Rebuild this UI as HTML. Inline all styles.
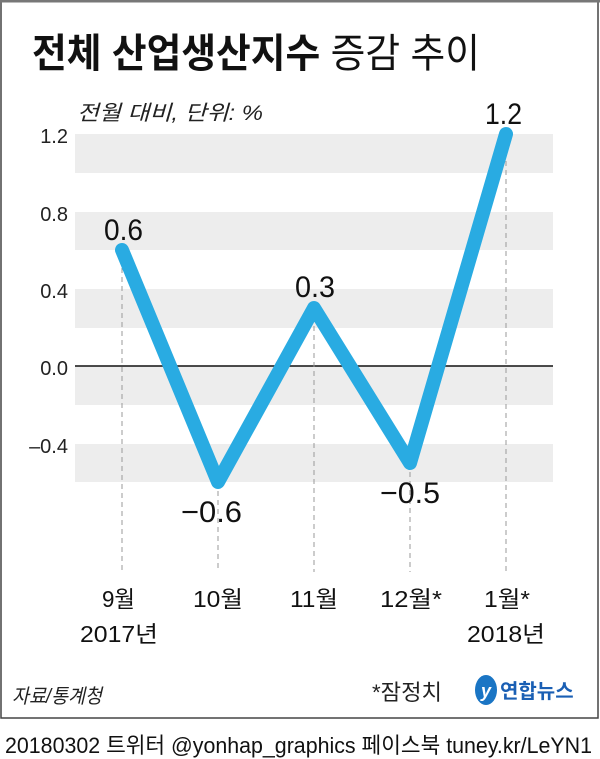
<!DOCTYPE html>
<html><head><meta charset="utf-8"><style>
body{margin:0;background:#fff;}
svg{display:block;}
text{font-family:"Liberation Sans","Noto Sans CJK KR",sans-serif;}
</style></head><body>
<svg width="600" height="759" viewBox="0 0 600 759" xmlns="http://www.w3.org/2000/svg">
<rect x="0" y="0" width="600" height="759" fill="#fff"/>
<rect x="1" y="1" width="597" height="717" fill="none" stroke="#444" stroke-width="1.5"/>
<line x1="0" y1="1" x2="600" y2="1" stroke="#777" stroke-width="3"/>
<text x="32" y="67" font-size="40" font-weight="bold" fill="#111" textLength="448" lengthAdjust="spacingAndGlyphs">전체 산업생산지수 <tspan font-weight="normal">증감 추이</tspan></text>
<text x="77" y="120" font-size="21" fill="#222" font-style="italic" textLength="186" lengthAdjust="spacingAndGlyphs">전월 대비, 단위: %</text>
<g fill="#ededed">
<rect x="75" y="134" width="478" height="39"/>
<rect x="75" y="212" width="478" height="38"/>
<rect x="75" y="289" width="478" height="39"/>
<rect x="75" y="366" width="478" height="39"/>
<rect x="75" y="444" width="478" height="38"/>
</g>
<line x1="75" y1="366" x2="553" y2="366" stroke="#111" stroke-width="1.5"/>
<g font-size="20" fill="#222" text-anchor="end">
<text x="68" y="143">1.2</text>
<text x="68" y="221">0.8</text>
<text x="68" y="298">0.4</text>
<text x="68" y="375">0.0</text>
<text x="68" y="453">–0.4</text>
</g>
<g stroke="#999" stroke-width="1" stroke-dasharray="5,4">
<line x1="122" y1="250" x2="122" y2="572"/>
<line x1="218" y1="482" x2="218" y2="572"/>
<line x1="314" y1="308" x2="314" y2="572"/>
<line x1="410" y1="463" x2="410" y2="572"/>
<line x1="506" y1="134" x2="506" y2="572"/>
</g>
<polyline points="122,250 218,482 314,308 410,463 506,134" fill="none" stroke="#29abe2" stroke-width="14" stroke-linejoin="round" stroke-linecap="round"/>
<g font-size="30" fill="#111">
<text x="104" y="240" textLength="39" lengthAdjust="spacingAndGlyphs">0.6</text>
<text x="181" y="522" textLength="61" lengthAdjust="spacingAndGlyphs">−0.6</text>
<text x="295" y="297" textLength="40" lengthAdjust="spacingAndGlyphs">0.3</text>
<text x="380" y="503" textLength="60" lengthAdjust="spacingAndGlyphs">−0.5</text>
<text x="485" y="124" textLength="37" lengthAdjust="spacingAndGlyphs">1.2</text>
</g>
<g font-size="23" fill="#111">
<text x="102" y="607" textLength="33" lengthAdjust="spacingAndGlyphs">9월</text>
<text x="193" y="607" textLength="50" lengthAdjust="spacingAndGlyphs">10월</text>
<text x="290" y="607" textLength="48" lengthAdjust="spacingAndGlyphs">11월</text>
<text x="380" y="607" textLength="62" lengthAdjust="spacingAndGlyphs">12월*</text>
<text x="484" y="607" textLength="46" lengthAdjust="spacingAndGlyphs">1월*</text>
<text x="80" y="642" textLength="78" lengthAdjust="spacingAndGlyphs">2017년</text>
<text x="467" y="642" textLength="78" lengthAdjust="spacingAndGlyphs">2018년</text>
</g>
<text x="12" y="703" font-size="20" fill="#222" font-style="italic" textLength="90" lengthAdjust="spacingAndGlyphs">자료/통계청</text>
<text x="372" y="700" font-size="22" fill="#222" textLength="70" lengthAdjust="spacingAndGlyphs">*잠정치</text>
<ellipse cx="486" cy="690" rx="11" ry="15" fill="#1a75c4"/>
<text x="486" y="697" font-size="18" fill="#fff" text-anchor="middle" font-style="italic" font-weight="bold">y</text>
<text x="500" y="698" font-size="20" font-weight="bold" fill="#1a5fb4">연합뉴스</text>
<text x="5" y="753" font-size="22" fill="#111" textLength="587" lengthAdjust="spacingAndGlyphs">20180302 트위터 @yonhap_graphics  페이스북 tuney.kr/LeYN1</text>
</svg>
</body></html>
